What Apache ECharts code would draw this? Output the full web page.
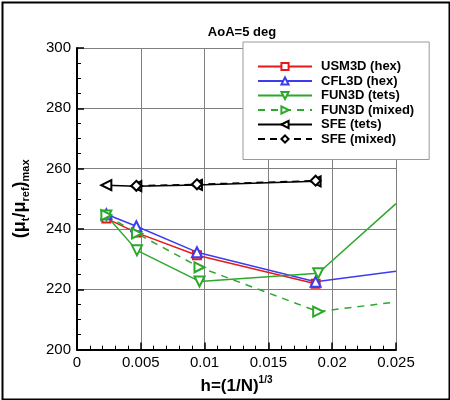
<!DOCTYPE html>
<html>
<head>
<meta charset="utf-8">
<script src="https://cdn.jsdelivr.net/npm/echarts@6/dist/echarts.min.js"></script>
<style>
html,body{margin:0;padding:0;background:#fff;}
#chart{width:450px;height:400px;}
</style>
</head>
<body>
<div id="chart"></div>
<script>
// ---- data ----
var hValues   = [0.0023, 0.00465, 0.0094, 0.0187];
var hFun3d    = [0.0023, 0.0047, 0.0096, 0.0189];
var hEnd      = 0.025;
var usm3dHex  = [243.5, 238.8, 231.3, 221.8];
var cfl3dHex  = [244.9, 240.9, 232.3, 222.5];
var cfl3dEnd  = 226.0;
var fun3dTets = [244.5, 232.9, 222.6, 225.3];
var fun3dTetsEnd = 248.4;
var fun3dMixed = [244.6, 238.5, 227.3, 212.6];
var fun3dMixedEnd = 215.8;
var sfeTets   = [254.5, 254.2, 254.6, 255.8];
var sfeMixed  = [null, 254.3, 254.8, 256.0];
var seriesNames = ['USM3D (hex)', 'CFL3D (hex)', 'FUN3D (tets)', 'FUN3D (mixed)', 'SFE (tets)', 'SFE (mixed)'];

function pts(h, v, endH, endV) {
  var out = [];
  for (var i = 0; i < v.length; i++) {
    if (v[i] !== null) out.push([h[i], v[i]]);
  }
  if (endV !== undefined) out.push({value: [endH, endV], symbol: 'none'});
  return out;
}

var FONT = 'Liberation Sans, Arial, Helvetica, sans-serif';
var RED = '#e41a1a', BLUE = '#3c3cf0', GREEN = '#2ca82c', BLACK = '#000';

var chart = echarts.init(document.getElementById('chart'));
chart.setOption({
  animation: false,
  backgroundColor: '#fff',
  textStyle: {fontFamily: FONT},
  title: {
    text: 'AoA=5 deg',
    left: 237, top: 21, textAlign: 'center',
    textStyle: {fontFamily: FONT, fontSize: 13, fontWeight: 'bold', color: '#000'}
  },
  grid: {left: 77, right: 54, top: 48, bottom: 46, containLabel: false},
  legend: {
    orient: 'vertical',
    left: 243, top: 42,
    padding: [18, 15, 14, 14],
    itemWidth: 54, itemHeight: 9, itemGap: 1.5,
    backgroundColor: '#fff',
    borderColor: '#999', borderWidth: 1,
    textStyle: {fontFamily: FONT, fontSize: 13, fontWeight: 'bold', color: '#000', padding: [0, 0, 0, 4], lineHeight: 13},
    data: seriesNames
  },
  xAxis: {
    type: 'value', min: 0, max: 0.025, interval: 0.005,
    name: '{p|h=(1/N)}{s|1/3}',
    nameLocation: 'middle', nameGap: 21,
    nameTextStyle: {
      rich: {
        p: {fontFamily: FONT, fontSize: 17, fontWeight: 'bold', color: '#000', lineHeight: 22, verticalAlign: 'middle'},
        s: {fontFamily: FONT, fontSize: 10, fontWeight: 'bold', color: '#000', lineHeight: 10, verticalAlign: 'top'}
      }
    },
    axisLine: {show: true, onZero: false, lineStyle: {color: '#000', width: 2}},
    axisTick: {show: true, inside: true, length: 7, lineStyle: {color: '#000', width: 1.5}},
    minorTick: {show: true, splitNumber: 5, length: 4, lineStyle: {color: '#000', width: 1}},
    axisLabel: {fontFamily: FONT, fontSize: 15, color: '#000', margin: 6},
    splitLine: {show: true, lineStyle: {color: '#808080', width: 1}}
  },
  yAxis: {
    type: 'value', min: 200, max: 300, interval: 20,
    name: '{p|(μ}{s|t}{p|/μ}{s|ref}{p|)}{s|max}',
    nameLocation: 'middle', nameRotate: 90, nameGap: 46,
    nameTextStyle: {
      rich: {
        p: {fontFamily: FONT, fontSize: 18, fontWeight: 'bold', color: '#000', lineHeight: 22, verticalAlign: 'middle'},
        s: {fontFamily: FONT, fontSize: 11, fontWeight: 'bold', color: '#000', lineHeight: 11, verticalAlign: 'bottom'}
      }
    },
    axisLine: {show: true, onZero: false, lineStyle: {color: '#000', width: 2}},
    axisTick: {show: true, inside: true, length: 7, lineStyle: {color: '#000', width: 1.5}},
    minorTick: {show: true, splitNumber: 4, length: 4, lineStyle: {color: '#000', width: 1}},
    axisLabel: {fontFamily: FONT, fontSize: 15, color: '#000', margin: 6},
    splitLine: {show: true, lineStyle: {color: '#808080', width: 1}}
  },
  series: [
    {name: seriesNames[0], type: 'line', data: pts(hValues, usm3dHex),
     symbol: 'emptyRect', symbolSize: 8, color: RED,
     lineStyle: {width: 1.5, color: RED}, itemStyle: {color: RED, borderWidth: 1.3}},
    {name: seriesNames[1], type: 'line', data: pts(hValues, cfl3dHex, hEnd, cfl3dEnd),
     symbol: 'emptyTriangle', symbolSize: 10, color: BLUE,
     lineStyle: {width: 1.5, color: BLUE}, itemStyle: {color: BLUE, borderWidth: 1.3}},
    {name: seriesNames[2], type: 'line', data: pts(hFun3d, fun3dTets, hEnd, fun3dTetsEnd),
     symbol: 'emptyTriangle', symbolRotate: 180, symbolSize: 10, color: GREEN,
     lineStyle: {width: 1.5, color: GREEN}, itemStyle: {color: GREEN, borderWidth: 1.3}},
    {name: seriesNames[3], type: 'line', data: pts(hFun3d, fun3dMixed, hEnd, fun3dMixedEnd),
     symbol: 'emptyTriangle', symbolRotate: -90, symbolSize: 10, color: GREEN,
     lineStyle: {width: 1.5, color: GREEN, type: [7, 6]}, itemStyle: {color: GREEN, borderWidth: 1.3}},
    {name: seriesNames[4], type: 'line', data: pts(hValues, sfeTets),
     symbol: 'emptyTriangle', symbolRotate: 90, symbolSize: 10, color: BLACK,
     lineStyle: {width: 1.5, color: BLACK}, itemStyle: {color: BLACK, borderWidth: 1.3}},
    {name: seriesNames[5], type: 'line', data: pts(hValues, sfeMixed),
     symbol: 'emptyDiamond', symbolSize: 10, color: BLACK,
     lineStyle: {width: 1.5, color: BLACK, type: [7, 5]}, itemStyle: {color: BLACK, borderWidth: 1.3}}
  ],
  graphic: [
    {type: 'rect', left: 0, top: 0, z: 100, silent: true,
     shape: {x: 1, y: 1, width: 447, height: 397},
     style: {fill: 'none', stroke: '#000', lineWidth: 2}}
  ]
});
</script>
</body>
</html>
